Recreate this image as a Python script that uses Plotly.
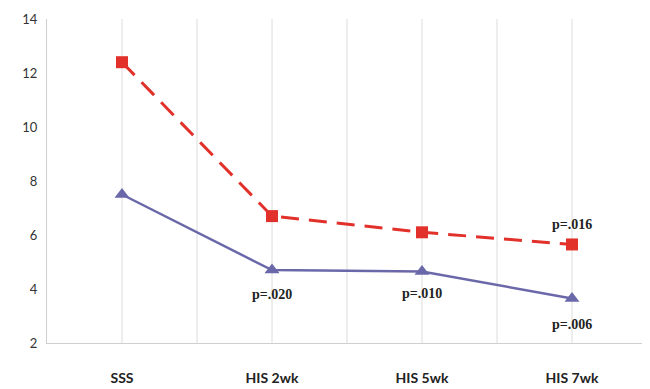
import plotly.graph_objects as go

categories = ["SSS", "HIS 2wk", "HIS 5wk", "HIS 7wk"]
red_values = [12.4, 6.7, 6.1, 5.65]
blue_values = [7.5, 4.7, 4.65, 3.65]
y_ticks = [2, 4, 6, 8, 10, 12, 14]
p_labels = [("HIS 2wk", 3.8, "p=.020"), ("HIS 5wk", 3.85, "p=.010"),
            ("HIS 7wk", 6.4, "p=.016"), ("HIS 7wk", 2.7, "p=.006")]

x_idx = list(range(len(categories)))

fig = go.Figure()
fig.add_trace(go.Scatter(
    x=x_idx, y=red_values, mode="lines+markers",
    line=dict(color="#E2312B", width=3, dash="18px,10px"),
    marker=dict(symbol="square", size=12, color="#E2312B"),
    showlegend=False))
fig.add_trace(go.Scatter(
    x=x_idx, y=blue_values, mode="lines+markers",
    line=dict(color="#6B68AA", width=2.5),
    marker=dict(symbol="triangle-up", size=13, color="#6B68AA"),
    showlegend=False))

for cat, y, txt in p_labels:
    fig.add_annotation(x=categories.index(cat), y=y, text="<b>" + txt + "</b>", showarrow=False,
                       font=dict(family="Liberation Serif", size=14, color="#222"),
                       xanchor="center", yanchor="middle")

fig.update_layout(
    width=642, height=381,
    margin=dict(l=39, r=3, t=7, b=44),
    plot_bgcolor="white", paper_bgcolor="white",
    xaxis=dict(range=[-0.5, 3.5], tickvals=x_idx,
               ticktext=["<b>" + c + "</b>" for c in categories],
               showgrid=False, zeroline=False, showline=True,
               linecolor="#cfcfcf", linewidth=1, ticks="",
               ticklabelstandoff=22,
               tickfont=dict(family="Lato", size=14, color="#222")),
    yaxis=dict(range=[2, 14], tickvals=y_ticks, showgrid=False,
               zeroline=False, showline=True, linecolor="#cfcfcf",
               linewidth=1, ticks="", ticklabelstandoff=6,
               ticklabeloverflow="allow",
               tickfont=dict(family="Lato", size=13, color="#333")),
)

# vertical gridlines at categories and midpoints
grid_x = [i * 0.5 for i in range(0, 8)]
for gx in grid_x:
    fig.add_shape(type="line", xref="x", yref="paper", x0=gx, x1=gx, y0=0, y1=1,
                  line=dict(color="#dcdcdc", width=1), layer="below")

fig.write_html("out.html")
